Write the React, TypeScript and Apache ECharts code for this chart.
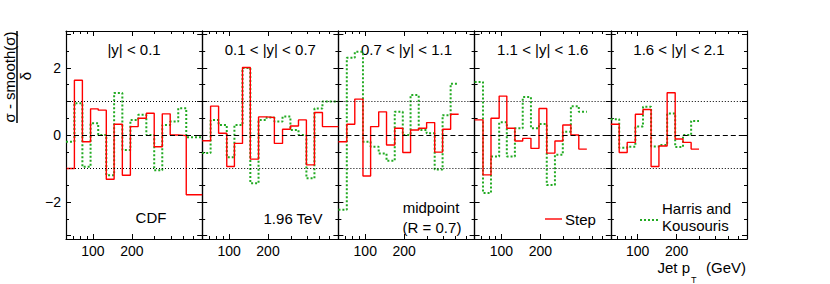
import React, { useEffect, useRef } from "react";
import * as echarts from "echarts";

// ---------- data ----------
const PT_EDGES = [62, 72, 83, 96, 110, 127, 146, 169, 195, 224, 259, 298, 344, 396, 457, 527, 700];
const RAPIDITY_BINS = ["|y| < 0.1", "0.1 < |y| < 0.7", "0.7 < |y| < 1.1", "1.1 < |y| < 1.6", "1.6 < |y| < 2.1"];

const STEP_1 = [-1.0, 1.63, -0.2, 0.78, 0.74, -1.32, 0.32, -1.2, 0.25, 0.5, 0.65, -0.35, 0.63, 0.0, -0.02, -1.78];
const HK_1 = [-0.2, 0.95, -0.95, 0.35, 0.0, -1.2, 1.25, -0.45, 0.45, 0.6, 0.0, -1.05, 0.3, 0.4, 0.8, -0.07];
const STEP_2 = [-0.17, 0.86, 0.05, -0.94, -0.25, 2.01, -0.72, 0.54, 0.52, -0.25, 0.17, 0.27, 0.45, -0.89, 0.67, 0.25];
const HK_2 = [-0.54, 0.45, 0.3, -0.66, 0.3, 2.0, -1.44, 0.45, 0.52, 0.4, 0.55, 0.15, 0.0, -1.29, 0.79, 1.0];
const STEP_3 = [-0.2, 0.32, 1.07, -1.22, 0.25, 0.69, -0.3, 0.2, -0.52, 0.15, 0.2, 0.37, -0.51, 0.17, 0.62];
const HK_3 = [-2.23, 2.3, 2.48, -0.2, -0.35, -0.55, -0.77, 0.69, 0.0, 1.19, 0.15, 0.05, -1.03, 0.59, 1.53];
const STEP_4 = [0.45, -1.19, 0.5, 1.16, 0.2, -0.18, -0.1, -0.4, 0.79, -0.54, -0.18, 0.3, 0.0, -0.42];
const HK_4 = [1.58, -1.73, -0.64, 0.38, -0.64, 0.2, 1.13, 0.2, 0.33, -1.49, -0.59, 0.1, 0.86, 0.69];
const STEP_5 = [0.32, -0.52, -0.22, 0.62, 0.76, -0.94, -0.33, 1.26, -0.12, -0.22, -0.42];
const HK_5 = [0.47, -0.38, -0.35, 0.25, 0.84, -0.34, -0.3, 0.64, -0.36, 0.0, 0.42];

const STEP_SERIES = [STEP_1, STEP_2, STEP_3, STEP_4, STEP_5];
const HK_SERIES = [HK_1, HK_2, HK_3, HK_4, HK_5];

const X_MIN = 62;
const X_MAX = 700;
const X_LABELS = [100, 200];
const X_MINOR = [70, 80, 90, 300, 400, 500, 600];
const Y_MIN = -3.1;
const Y_MAX = 3.1;
const Y_MAJOR = [-3, -2, -1, 0, 1, 2, 3];
const Y_MINOR = [-2.5, -1.5, -0.5, 0.5, 1.5, 2.5];
const Y_LABELS = [-2, 0, 2];

// ---------- layout ----------
const FONT = "'Liberation Sans', Arial, Helvetica, sans-serif";
const GRID_LEFT = 66;
const GRID_W = 136.2;
const GRID_TOP = 31;
const GRID_H = 208;
const RED = "#ff0000";
const GREEN = "#22aa22";

const lg = (v: number) => Math.log10(v);

function stepPoints(values: number[]) {
  const pts = values.map((v, i) => [lg(PT_EDGES[i]), v]);
  pts.push([lg(PT_EDGES[values.length]), values[values.length - 1]]);
  return pts;
}

function buildOption() {
  const grids: any[] = [];
  const xAxes: any[] = [];
  const yAxes: any[] = [];
  const series: any[] = [];
  const graphics: any[] = [];
  const line = { show: true, onZero: false, lineStyle: { color: "#000", width: 1.2 } };

  for (let i = 0; i < 5; i++) {
    const left = GRID_LEFT + i * GRID_W;
    grids.push({ left, top: GRID_TOP, width: GRID_W, height: GRID_H, containLabel: false });
    const bx = { gridIndex: i, type: "value", min: lg(X_MIN), max: lg(X_MAX), splitLine: { show: false } };
    const ticks = (vals: number[], len: number) => ({
      show: true,
      inside: true,
      length: len,
      customValues: vals,
      lineStyle: { color: "#000", width: 1 },
    });
    xAxes.push({
      ...bx,
      position: "bottom",
      axisLine: line,
      axisTick: ticks(X_LABELS.map(lg), 5),
      axisLabel: {
        show: true,
        customValues: X_LABELS.map(lg),
        formatter: (v: number) => String(Math.round(Math.pow(10, v))),
        fontSize: 14,
        fontFamily: FONT,
        color: "#000",
        margin: 5,
      },
    });
    xAxes.push({ ...bx, position: "bottom", axisLine: { show: false, onZero: false }, axisTick: ticks(X_MINOR.map(lg), 3), axisLabel: { show: false } });
    xAxes.push({ ...bx, position: "top", axisLine: line, axisTick: ticks(X_LABELS.map(lg), 5), axisLabel: { show: false } });
    xAxes.push({ ...bx, position: "top", axisLine: { show: false, onZero: false }, axisTick: ticks(X_MINOR.map(lg), 3), axisLabel: { show: false } });

    const by = { gridIndex: i, type: "value", min: Y_MIN, max: Y_MAX, splitLine: { show: false } };
    yAxes.push({
      ...by,
      position: "left",
      axisLine: line,
      axisTick: ticks(Y_MAJOR, 5),
      axisLabel: {
        show: i === 0,
        customValues: Y_LABELS,
        formatter: (v: number) => (v < 0 ? "\u2212" + Math.abs(v) : String(v)),
        fontSize: 14,
        fontFamily: FONT,
        color: "#000",
        margin: 5,
      },
    });
    yAxes.push({ ...by, position: "left", axisLine: { show: false, onZero: false }, axisTick: ticks(Y_MINOR, 3), axisLabel: { show: false } });
    yAxes.push({ ...by, position: "right", axisLine: line, axisTick: ticks(Y_MAJOR, 5), axisLabel: { show: false } });
    yAxes.push({ ...by, position: "right", axisLine: { show: false, onZero: false }, axisTick: ticks(Y_MINOR, 3), axisLabel: { show: false } });

    series.push({
      type: "line",
      name: "Harris and Kousouris",
      xAxisIndex: 4 * i,
      yAxisIndex: 4 * i,
      data: stepPoints(HK_SERIES[i]),
      step: "end",
      symbol: "none",
      z: 2,
      lineStyle: { color: GREEN, width: 2, type: [2, 2] },
      markLine: {
        silent: true,
        symbol: "none",
        label: { show: false },
        data: [
          { yAxis: 0, lineStyle: { color: "#000", width: 1, type: [5, 3] } },
          { yAxis: 1, lineStyle: { color: "#000", width: 1, type: [1, 2] } },
          { yAxis: -1, lineStyle: { color: "#000", width: 1, type: [1, 2] } },
        ],
      },
    });
    series.push({
      type: "line",
      name: "Step",
      xAxisIndex: 4 * i,
      yAxisIndex: 4 * i,
      data: stepPoints(STEP_SERIES[i]),
      step: "end",
      symbol: "none",
      z: 3,
      lineStyle: { color: RED, width: 1.4 },
    });

    graphics.push({
      type: "text",
      x: left + GRID_W / 2,
      y: 49,
      style: { text: RAPIDITY_BINS[i], fontSize: 15, fontFamily: FONT, fill: "#000", align: "center", verticalAlign: "middle" },
    });
  }

  const txt = (text: string, x: number, y: number, align = "center", size = 15) => ({
    type: "text",
    x,
    y,
    style: { text, fontSize: size, fontFamily: FONT, fill: "#000", align, verticalAlign: "middle" },
  });

  graphics.push(txt("CDF", 151, 217));
  graphics.push(txt("1.96 TeV", 293, 218));
  graphics.push(txt("midpoint", 431, 207));
  graphics.push(txt("(R = 0.7)", 432, 227));
  // legend
  graphics.push({ type: "line", shape: { x1: 545, y1: 219, x2: 562, y2: 219 }, style: { stroke: RED, lineWidth: 1.4 } });
  graphics.push(txt("Step", 565, 219, "left"));
  graphics.push({ type: "line", shape: { x1: 640, y1: 220, x2: 658, y2: 220 }, style: { stroke: GREEN, lineWidth: 2, lineDash: [2, 2] } });
  graphics.push(txt("Harris and", 662, 208, "left"));
  graphics.push(txt("Kousouris", 662, 225, "left"));
  // x axis title
  graphics.push(txt("Jet p", 690, 267, "right"));
  graphics.push(txt("T", 691, 280, "left", 9));
  graphics.push(txt("(GeV)", 706, 267, "left"));
  // y axis title (fraction)
  graphics.push({
    type: "text",
    x: 9,
    y: 77,
    rotation: Math.PI / 2,
    style: { text: "\u03c3 - smooth(\u03c3)", fontSize: 15, fontFamily: FONT, fill: "#000", align: "center", verticalAlign: "middle" },
  });
  graphics.push({ type: "line", shape: { x1: 17, y1: 31, x2: 17, y2: 123 }, style: { stroke: "#000", lineWidth: 1.5 } });
  graphics.push({
    type: "text",
    x: 25,
    y: 76,
    rotation: Math.PI / 2,
    style: { text: "\u03b4", fontSize: 15, fontFamily: FONT, fill: "#000", align: "center", verticalAlign: "middle" },
  });

  return {
    animation: false,
    backgroundColor: "#ffffff",
    grid: grids,
    xAxis: xAxes,
    yAxis: yAxes,
    series,
    graphic: graphics,
  };
}

export default function App() {
  const ref = useRef<HTMLDivElement>(null);
  useEffect(() => {
    if (!ref.current) return;
    const chart = echarts.init(ref.current, undefined, { renderer: "svg" });
    chart.setOption(buildOption() as any);
    return () => chart.dispose();
  }, []);
  return <div ref={ref} style={{ position: "absolute", left: 0, top: 0, width: 830, height: 284 }} />;
}
